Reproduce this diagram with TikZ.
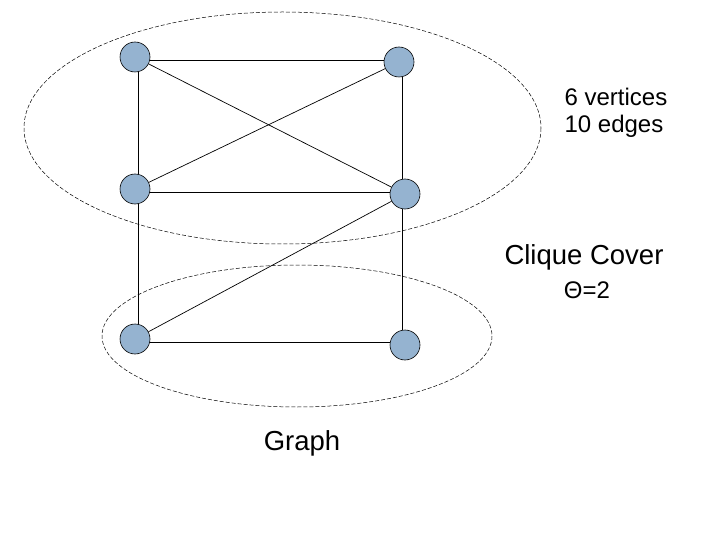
\documentclass[tikz,border=0pt]{standalone}
\usepackage{fontspec}
\setmainfont{Liberation Sans}
\begin{document}
\begin{tikzpicture}[x=1pt,y=-1pt,
  vtx/.style={circle,draw=black,fill={rgb,255:red,149;green,179;blue,208},minimum size=30pt,inner sep=0pt,line width=0.6pt},
  edge/.style={draw=black,line width=0.7pt},
  cover/.style={draw=black,dashed,dash pattern=on 4pt off 2pt,line width=0.5pt},
  lbl/.style={inner sep=0pt,anchor=center}]
\useasboundingbox (0,0) rectangle (720,540);
\fill[white] (0,0) rectangle (720,540);
\draw[cover] (282.5,128) ellipse [x radius=258.5, y radius=116];
\draw[cover] (297,336) ellipse [x radius=195, y radius=71];
\node[vtx] (v1) at (135,57) {};
\node[vtx] (v2) at (399,62) {};
\node[vtx] (v3) at (135,189) {};
\node[vtx] (v4) at (405,194) {};
\node[vtx] (v5) at (135,339) {};
\node[vtx] (v6) at (405,345) {};
\draw[edge] ([yshift=-3pt]v1.east) -- ([yshift=2pt]v2.west);
\draw[edge] ([xshift=3pt]v1.south) -- ([xshift=3pt]v3.north);
\draw[edge] (v1) -- (v4);
\draw[edge] (v2) -- (v3);
\draw[edge] ([xshift=3pt]v2.south) -- ([xshift=-3pt]v4.north);
\draw[edge] ([yshift=-3pt]v3.east) -- ([yshift=2pt]v4.west);
\draw[edge] ([xshift=3pt]v3.south) -- ([xshift=3pt]v5.north);
\draw[edge] (v4) -- (v5);
\draw[edge] ([xshift=-3pt]v4.south) -- ([xshift=-3pt]v6.north);
\draw[edge] ([yshift=-3pt]v5.east) -- ([yshift=3pt]v6.west);
\node[lbl,font=\fontsize{24}{28}\selectfont] (t1) at (616,97) {6 vertices};
\node[lbl,font=\fontsize{24}{28}\selectfont] (t2) at (614,126) {10 edges};
\node[lbl,font=\fontsize{27.5}{32}\selectfont] (t3) at (584,257) {Clique Cover};
\node[lbl,font=\fontsize{24}{28}\selectfont] (t4) at (587,290) {Θ=2};
\node[lbl,font=\fontsize{27.5}{32}\selectfont] (t5) at (302,443) {Graph};
\end{tikzpicture}
\end{document}
